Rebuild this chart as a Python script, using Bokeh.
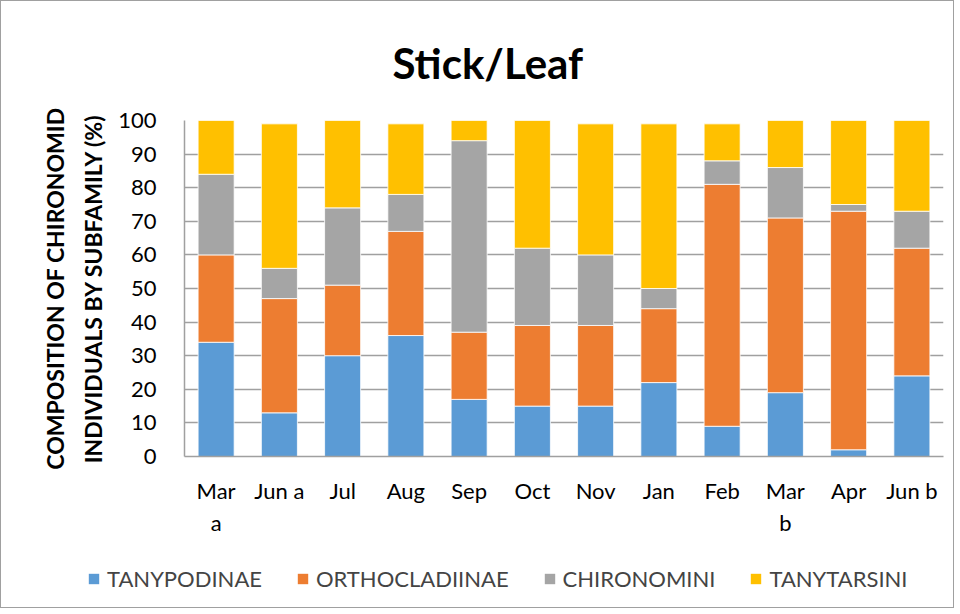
from bokeh.plotting import figure
from bokeh.layouts import column, row
from bokeh.models import Legend, LegendItem, FactorRange, FixedTicker, Range1d, ColumnDataSource
from bokeh.embed import file_html
from bokeh.resources import INLINE

months = ["Mar\na", "Jun a", "Jul", "Aug", "Sep", "Oct", "Nov", "Jan", "Feb", "Mar\nb", "Apr", "Jun b"]
tanypodinae = [34, 13, 30, 36, 17, 15, 15, 22, 9, 19, 2, 24]
orthocladiinae = [26, 34, 21, 31, 20, 24, 24, 22, 72, 52, 71, 38]
chironomini = [24, 9, 23, 11, 57, 23, 21, 6, 7, 15, 2, 11]
tanytarsini = [16, 43, 26, 21, 6, 38, 39, 49, 11, 14, 25, 27]
series_names = ["TANYPODINAE", "ORTHOCLADIINAE", "CHIRONOMINI", "TANYTARSINI"]
colors = ["#5B9BD5", "#ED7D31", "#A5A5A5", "#FFC000"]
y_ticks = list(range(0, 101, 10))

FONT = "Lato"

data = dict(months=months, TANYPODINAE=tanypodinae, ORTHOCLADIINAE=orthocladiinae,
            CHIRONOMINI=chironomini, TANYTARSINI=tanytarsini)

fig = figure(x_range=FactorRange(*months, range_padding=0), y_range=(0, 100),
             width=952, height=550, output_backend="svg", toolbar_location=None,
             min_border_left=183, min_border_right=10, min_border_top=119, min_border_bottom=95)

fig.vbar_stack(series_names, x="months", width=0.57, color=colors,
               line_color="white", line_width=0.8, source=data)

fig.title.text = "Stick/Leaf"
fig.title.align = "left"
fig.title.offset = 208
fig.title.text_font = FONT
fig.title.text_font_size = "42px"
fig.title.text_font_style = "bold"
fig.title.text_color = "black"
fig.title.standoff = 66

fig.yaxis.ticker = FixedTicker(ticks=y_ticks)
fig.xgrid.grid_line_color = None
fig.ygrid.grid_line_color = "#A0A0A0"
fig.ygrid.grid_line_width = 1.5
fig.outline_line_color = None

for ax in (fig.xaxis[0], fig.yaxis[0]):
    ax.axis_line_color = "#A0A0A0"
    ax.axis_line_width = 1.5
    ax.major_tick_line_color = None
    ax.minor_tick_line_color = None
    ax.major_label_text_font = FONT
    ax.major_label_text_font_size = "22px"
    ax.major_label_text_color = "black"

fig.xaxis.major_label_standoff = 14
fig.yaxis.major_label_standoff = 22

fig.yaxis.axis_label = "COMPOSITION OF CHIRONOMID\nINDIVIDUALS BY SUBFAMILY (%)"
fig.yaxis.axis_label_text_font = FONT
fig.yaxis.axis_label_text_font_size = "23px"
fig.yaxis.axis_label_text_font_style = "bold"
fig.yaxis.axis_label_text_color = "black"
fig.yaxis.axis_label_standoff = 8
fig.yaxis.axis_label_text_line_height = 1.35

# legend strip below the chart (swatch renderers are zero-width, only used for the key)
leg = figure(width=952, height=56, output_backend="svg", toolbar_location=None,
             x_range=Range1d(0, 1), y_range=Range1d(0, 1),
             x_axis_location=None, y_axis_location=None,
             min_border_left=0, min_border_right=0, min_border_top=0, min_border_bottom=0)
leg.xgrid.grid_line_color = None
leg.ygrid.grid_line_color = None
leg.outline_line_color = None

swatch_src = ColumnDataSource(dict(x=[0], top=[0]))
swatches = [leg.vbar(x="x", top="top", width=0.0, fill_color=c, line_color=None, source=swatch_src)
            for c in colors]
items = [LegendItem(label=n, renderers=[r]) for n, r in zip(series_names, swatches)]
legend = Legend(items=items, orientation="horizontal", location=(86, 15),
                label_text_font=FONT, label_text_font_size="22px",
                glyph_width=13, glyph_height=13, label_standoff=7, spacing=34,
                padding=0, margin=0, border_line_color=None, background_fill_alpha=0)
leg.add_layout(legend, "center")

p = column(fig, row(leg), spacing=0, styles={"border": "1px solid #A0A0A0"})

open("out.html", "w").write(file_html(p, INLINE))
